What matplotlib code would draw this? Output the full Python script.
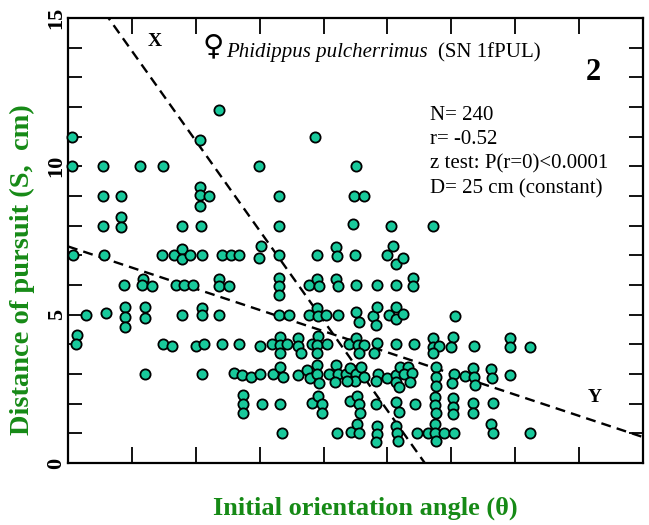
import matplotlib
matplotlib.use("Agg")
import matplotlib.pyplot as plt
import numpy as np

plt.rcParams['font.family'] = ['Liberation Serif', 'DejaVu Sans']

# ---- data: initial orientation angle (deg) and distance of pursuit (cm) ----
theta = [
    47.2,
    1.2, 41.3, 77.4,
    1.2, 10.9, 22.6, 29.8, 59.9, 90.2,
    10.9, 16.7, 41.3, 41.3, 44.1, 41.3, 66.1, 89.6, 92.8,
    10.9, 16.7, 16.7, 35.7, 41.7, 66.1, 89.1, 101.0, 114.2,
    1.5, 11.2, 29.3, 33.3, 35.7, 35.7, 38.2, 41.9, 48.1, 50.9, 53.5, 60.4, 59.8,
    66.1, 77.9, 83.9, 84.3, 89.8, 100.0, 101.8, 102.7, 105.0,
    17.6, 23.5, 23.3, 26.3, 33.9, 36.3, 39.0, 47.4, 47.4, 50.4, 66.1, 66.1, 66.1,
    75.5, 77.9, 78.6, 83.9, 84.6, 90.1, 96.8, 102.7, 108.1, 108.1,
    5.5, 11.9, 17.9, 17.9, 17.9, 24.1, 24.1, 35.7, 41.9, 42.0, 47.4, 66.1, 69.2,
    75.5, 77.9, 78.4, 80.7, 84.4, 90.1, 91.2, 95.6, 96.6, 96.4, 100.6, 102.7,
    102.7, 105.0, 121.2,
    2.7, 2.5, 29.7, 32.4, 40.0, 42.7, 48.2, 53.4, 60.1, 63.8, 66.4, 66.4, 66.4,
    68.7, 72.1, 72.1, 72.9, 76.3, 78.3, 78.0, 78.0, 81.0, 88.1, 90.1, 90.9, 92.7,
    91.1, 96.8, 95.9, 102.7, 108.4, 114.4, 114.4, 116.2, 114.2, 120.6, 119.9,
    127.1, 138.4, 138.4, 144.6,
    24.0, 42.0, 52.0, 54.6, 57.4, 60.1, 64.1, 66.4, 67.2, 72.1, 74.7, 75.8, 78.0,
    78.0, 78.7, 81.8, 83.9, 84.6, 83.6, 87.0, 88.3, 90.1, 89.8, 87.4, 91.6, 92.7,
    97.1, 96.4, 100.0, 102.6, 103.9, 106.3, 105.2, 102.7, 107.6, 103.7, 107.1,
    115.2, 115.2, 115.2, 120.9, 120.1, 124.3, 126.7, 127.2, 127.4, 132.4, 132.6,
    138.4,
    54.7, 54.7, 54.7, 60.7, 66.5, 76.5, 78.4, 79.4, 79.6, 88.3, 90.5, 91.2, 91.4,
    96.4, 102.7, 103.5, 108.6, 115.0, 115.0, 115.2, 120.6, 120.6, 120.4, 126.9,
    126.9, 133.1,
    67.0, 84.1, 88.7, 90.4, 91.2, 96.7, 96.7, 96.4, 102.8, 103.0, 103.2, 109.3,
    112.7, 115.0, 115.0, 115.2, 117.7, 120.8, 132.4, 133.0, 144.6,
]
distance = [
    11.9,
    11.0, 10.9, 11.0,
    10, 10, 10, 10, 10, 10,
    9, 9, 9.3, 9.05, 9.0, 8.65, 9, 9, 9,
    8, 8.3, 7.95, 8, 8, 8, 8.05, 8, 8,
    7, 7, 7, 7, 7.2, 6.87, 7, 7, 7, 7, 7, 7.3, 6.92,
    7, 7, 7.29, 6.99, 7, 7.0, 7.3, 6.7, 6.92,
    6, 6.2, 6.0, 5.97, 6, 6, 6, 6.2, 5.96, 5.96, 6.25, 5.98, 5.65,
    6, 6.2, 5.96, 6.2, 5.96, 6, 6, 6, 6.25, 5.95,
    5, 5.05, 5.27, 4.93, 4.6, 5.25, 4.9, 5, 5.22, 4.98, 5, 5, 5,
    5, 5.22, 4.97, 5, 5, 5.1, 4.74, 4.95, 5.25, 4.65, 5, 5.25,
    4.85, 5.02, 4.97,
    4.3, 4.0, 4.0, 3.95, 3.94, 4.0, 4.0, 4.0, 3.95, 4.0, 4.25, 3.98, 3.72,
    4.0, 4.2, 3.95, 3.7, 4.0, 4.27, 3.98, 3.72, 4.0, 4.0, 4.2, 3.98, 3.98,
    3.7, 4.03, 3.72, 4.0, 4.0, 4.22, 3.92, 3.96, 3.7, 4.24, 3.9,
    3.95, 4.2, 3.9, 3.9,
    3, 3, 3.05, 2.95, 2.9, 3.0, 3.0, 3.23, 2.9, 2.95, 3.15, 2.85, 3.3,
    3.0, 2.7, 3.0, 3.3, 3.0, 2.73, 3.0, 3.2, 3.0, 2.75, 2.75, 3.25, 2.9,
    3.0, 2.76, 2.85, 2.97, 3.23, 3.25, 3.0, 2.74, 3.02, 2.55, 2.74,
    3.23, 2.91, 2.6, 2.99, 2.69, 2.94, 3.19, 2.91, 2.63, 3.16, 2.85,
    2.97,
    2.3, 2.0, 1.7, 2.0, 2.0, 2.03, 2.25, 2.0, 1.68, 2.1, 2.25, 2.0, 1.68,
    2.0, 2.07, 1.72, 2.0, 2.23, 1.95, 1.67, 2.18, 1.9, 1.65, 2.03,
    1.7, 2.03,
    1.0, 1.0, 1.05, 1.3, 1.0, 1.25, 0.97, 0.7, 1.26, 1.0, 0.75, 1.0,
    1.0, 1.3, 1.0, 0.75, 1.0, 1.0, 1.3, 1.0, 1.0,
]

# regression lines (intercept at theta=0, slope per degree)
line_Y = (7.30, -0.0357)   # S on theta
line_X = (16.92, -0.1515)  # theta on S
x_range = [0, 180]
y_range = [0, 15]

stats_lines = ["N= 240", "r= -0.52", "z test: P(r=0)<0.0001", "D= 25 cm (constant)"]

W, H = 649, 525
fig = plt.figure(figsize=(W / 100, H / 100), dpi=100)
ax = fig.add_axes([68 / W, 1 - 463 / H, 575 / W, 445 / H])

def fx(px):
    return px / W

def fy(py):
    return 1 - py / H

green = '#168a16'

xs = np.array(x_range, dtype=float)
ax.plot(xs, line_Y[0] + line_Y[1] * xs, color='black', lw=1.7,
        linestyle=(0, (4.2, 2.6)), zorder=3)
ax.plot(xs, line_X[0] + line_X[1] * xs, color='black', lw=1.7,
        linestyle=(0, (4.2, 2.6)), zorder=3)

ax.scatter(theta, distance, s=54, facecolor='#18c99b', edgecolor='black',
           linewidth=1.3, zorder=4, clip_on=False)

ax.set_xlim(*x_range)
ax.set_ylim(*y_range)

ax.set_xticks(np.arange(0, 181, 20))
ax.set_xticklabels([])
ax.set_yticks(np.arange(0, 16, 1))
ax.set_yticklabels([str(v) if v % 5 == 0 else '' for v in range(16)],
                   rotation=90, va='center', fontsize=16, fontweight='bold')
ax.tick_params(axis='x', direction='in', length=11.5, width=1.3,
               top=True, bottom=True)
ax.tick_params(axis='y', direction='in', length=10, width=1.3,
               left=True, right=True, pad=1)
for s in ax.spines.values():
    s.set_linewidth(1.6)

# annotations
fig.text(fx(155), fy(41), 'X', fontsize=14, fontweight='bold', ha='center', va='center')
fig.text(fx(595), fy(398), 'Y', fontsize=14, fontweight='bold', ha='center', va='center')
fig.text(fx(213), fy(46), '\u2640', fontsize=21, ha='center', va='center',
         family=['DejaVu Sans'])
fig.text(fx(226), fy(57), 'Phidippus pulcherrimus', fontsize=15, style='italic',
         ha='left', va='baseline')
fig.text(fx(438), fy(57), '(SN 1fPUL)', fontsize=15, ha='left', va='baseline')
fig.text(fx(593), fy(73), '2', fontsize=22, fontweight='bold', ha='center', va='center')

for i, t in enumerate(stats_lines):
    fig.text(fx(430), fy(120 + i * 24.4), t, fontsize=15, ha='left', va='baseline')

fig.text(fx(365), fy(508), 'Initial orientation angle (\u03b8)', fontsize=19,
         fontweight='bold', color=green, ha='center', va='center')
fig.text(fx(22), fy(270), 'Distance of pursuit (S,  cm)', fontsize=20.5,
         fontweight='bold', color=green, ha='center', va='center', rotation=90)

fig.savefig('out.png', dpi=100)
